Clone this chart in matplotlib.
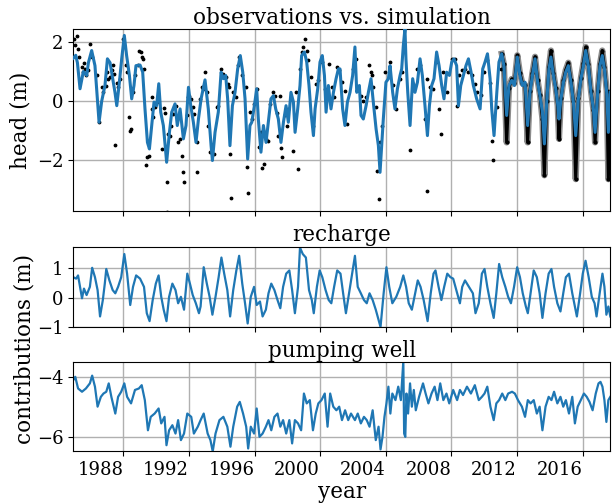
import numpy as np
import matplotlib
matplotlib.use("Agg")
import matplotlib.pyplot as plt

plt.rcParams['font.family'] = ['DejaVu Serif']

# simulated head (m)
sim_years = [1984.95, 1985.1, 1985.2, 1985.36, 1985.56, 1985.77, 1985.87, 1986.07, 1986.27, 1986.52,
             1986.68, 1986.88, 1987.03, 1987.19, 1987.35, 1987.49, 1987.6, 1987.76, 1987.9, 1988.06,
             1988.2, 1988.37, 1988.51, 1988.65, 1988.77, 1989.02, 1989.18, 1989.32, 1989.47, 1989.59,
             1989.73, 1989.87, 1990.03, 1990.16, 1990.28, 1990.44, 1990.64, 1990.81, 1990.95, 1991.15,
             1991.29, 1991.46, 1991.66, 1991.82, 1991.97, 1992.11, 1992.27, 1992.43, 1992.58, 1992.74,
             1992.98, 1993.18, 1993.35, 1993.43, 1993.59, 1993.79, 1993.96, 1994.1, 1994.24, 1994.36,
             1994.5, 1994.65, 1994.81, 1994.97, 1995.13, 1995.28, 1995.42, 1995.58, 1995.72, 1995.83,
             1995.99, 1996.13, 1996.23, 1996.39, 1996.54, 1996.7, 1996.84, 1997.0, 1997.15, 1997.29,
             1997.45, 1997.61, 1997.76, 1997.92, 1998.06, 1998.22, 1998.37, 1998.47, 1998.63, 1998.77,
             1998.87, 1999.04, 1999.18, 1999.32, 1999.44, 1999.59, 1999.69, 1999.85, 1999.99, 2000.13,
             2000.26, 2000.36, 2000.5, 2000.66, 2000.81, 2000.97, 2001.11, 2001.21, 2001.37, 2001.51,
             2001.66, 2001.82, 2001.98, 2002.12, 2002.23, 2002.39, 2002.49, 2002.63, 2002.8, 2002.94,
             2003.1, 2003.24, 2003.41, 2003.55, 2003.65, 2003.75, 2003.85, 2004.01, 2004.16, 2004.26,
             2004.42, 2004.56, 2004.71, 2004.87, 2004.97, 2005.07, 2005.17, 2005.23, 2005.34, 2005.48,
             2005.64, 2005.78, 2005.93, 2006.09, 2006.23, 2006.39, 2006.54, 2006.66, 2006.8, 2006.94,
             2007.1, 2007.25, 2007.41, 2007.55, 2007.71, 2007.88, 2008.02, 2008.16, 2008.32, 2008.43,
             2008.57, 2008.73, 2008.89, 2009.04, 2009.2, 2009.34, 2009.54, 2009.75, 2009.91, 2010.05,
             2010.2, 2010.36, 2010.46, 2010.6, 2010.77, 2010.9, 2011.07, 2011.2, 2011.37, 2011.51,
             2011.68, 2011.84, 2012.02, 2012.18, 2012.33, 2012.49, 2012.65, 2012.79, 2012.94, 2013.1,
             2013.26, 2013.4, 2013.55, 2013.67, 2013.81, 2013.95, 2014.07, 2014.22, 2014.36, 2014.48,
             2014.56, 2014.68, 2014.83, 2014.97, 2015.13, 2015.29, 2015.44, 2015.58, 2015.74, 2015.9,
             2016.05, 2016.19, 2016.35, 2016.51, 2016.66, 2016.76, 2016.92, 2017.06, 2017.2, 2017.33,
             2017.47, 2017.57, 2017.69]
sim_head = [1.45, 1.55, 1.3, 0.42, 1.0, 0.87, 1.3, 1.71, 1.2, -0.71,
            0.0, 0.53, 1.43, 1.3, 0.76, 0.3, -0.15, 0.64, 1.43, 2.22,
            1.54, 0.87, 0.08, 0.53, 1.2, 1.22, 0.98, -0.26, -1.39, -1.61,
            -0.82, -0.03, -0.15, 0.59, -0.37, -0.82, -2.06, -1.05, -0.37, -0.09,
            -0.82, -0.26, -1.27, -0.82, 0.47, -0.15, -0.71, -1.39, -0.6, 0.08,
            0.72, -0.26, -1.5, -2.0, -1.05, -0.37, 0.98, 0.76, 0.87, 0.08,
            -1.5, -0.15, 0.3, 1.09, 1.54, 0.98, 0.08, -1.95, -0.82, -0.71,
            -0.15, 0.42, -0.6, -1.72, -0.82, -1.39, -0.71, 0.08, 0.19, -0.26,
            -0.6, -1.39, -0.71, -0.15, -0.71, 0.3, -0.03, -1.05, -0.26, 0.53,
            1.54, 1.66, 1.32, 0.53, -0.37, -1.16, -0.26, 0.42, 1.32, 1.54,
            0.87, -0.37, 0.53, -0.26, 0.3, 0.76, 1.09, 1.09, -0.26, -0.82,
            -0.03, 0.3, 0.87, 1.83, 0.3, 0.53, -0.48, -0.6, -0.15, 0.3,
            0.76, -0.03, -0.94, -1.5, -2.4, -1.5, -0.6, 0.64, 0.76, 1.2,
            0.3, -0.26, 0.42, 0.87, 1.09, 1.88, 2.45, 1.43, 0.3, -0.82,
            0.76, 0.3, 0.64, 1.43, 0.87, -0.15, -1.16, -0.15, 0.53, 0.76,
            1.66, 1.2, 0.53, 0.08, 0.98, 0.87, 1.32, 1.43, 1.2, -0.15,
            0.53, 0.87, 1.2, 1.43, 0.98, 0.53, 0.08, -0.26, 1.09, 1.32,
            1.6, 0.76, -0.26, -1.16, 0.3, 1.32, 1.6, 1.2, -0.48, 0.53,
            0.7, 0.53, 1.49, 0.87, 0.53, 0.64, -0.82, 0.3, 0.87, 1.43,
            0.64, 0.19, -0.37, -1.44, -0.03, 1.09, 1.49, 0.87, 0.42, -0.09,
            -0.6, 0.08, 0.64, 0.98, 1.2, 0.64, -0.03, -1.16, 0.08, 0.76,
            1.2, 1.71, 1.2, 0.3, -0.26, -1.05, 0.3, 1.2, 1.54, 1.09,
            0.3, -1.05, 0.3]

# sparse head observations before 2011
obs_years = [1984.99, 1985.2, 1985.05, 1985.26, 1985.32, 1985.46, 1985.6, 1985.66, 1985.56, 1985.73,
             1985.87, 1985.97, 1986.07, 1986.38, 1986.54, 1986.68, 1986.78, 1986.95, 1987.03, 1987.09,
             1987.19, 1987.29, 1987.39, 1987.45, 1987.51, 1987.6, 1987.66, 1987.8, 1988.0, 1988.16,
             1988.25, 1988.35, 1988.45, 1988.41, 1988.53, 1988.61, 1988.71, 1988.92, 1988.98, 1989.06,
             1989.12, 1989.18, 1989.26, 1989.38, 1989.47, 1989.57, 1989.77, 1989.73, 1989.83, 1989.93,
             1990.08, 1990.34, 1990.48, 1990.54, 1990.64, 1990.64, 1990.75, 1990.85, 1990.91, 1991.05,
             1991.21, 1991.35, 1991.46, 1991.6, 1991.66, 1991.7, 1991.86, 1991.97, 1992.03, 1992.11,
             1992.23, 1992.31, 1992.47, 1992.47, 1992.68, 1992.78, 1992.88, 1992.98, 1993.08, 1993.18,
             1993.28, 1993.55, 1993.69, 1993.79, 1993.96, 1994.1, 1994.24, 1994.36, 1994.44, 1994.5,
             1994.57, 1994.71, 1994.85, 1994.97, 1995.07, 1995.26, 1995.46, 1995.52, 1995.62, 1995.72,
             1995.83, 1995.99, 1996.13, 1996.27, 1996.39, 1996.48, 1996.6, 1996.68, 1996.8, 1996.94,
             1997.15, 1997.25, 1997.35, 1997.45, 1997.55, 1997.61, 1997.66, 1997.86, 1997.96, 1998.06,
             1998.37, 1998.51, 1998.63, 1998.77, 1998.87, 1998.98, 1999.08, 1999.18, 1999.28, 1999.44,
             1999.59, 1999.75, 1999.89, 2000.09, 2000.3, 2000.54, 2000.7, 2000.87, 2001.01, 2001.17,
             2001.31, 2001.51, 2001.62, 2001.98, 2002.19, 2002.33, 2002.47, 2002.63, 2002.8, 2003.0,
             2003.08, 2003.16, 2003.24, 2003.41, 2003.49, 2003.61, 2003.65, 2003.75, 2003.95, 2004.26,
             2004.46, 2004.62, 2004.87, 2004.97, 2005.48, 2005.64, 2005.93, 2006.09, 2006.39, 2006.54,
             2006.5, 2006.7, 2006.86, 2007.06, 2007.27, 2007.35, 2007.51, 2007.71, 2008.02, 2008.22,
             2008.36, 2008.49, 2008.63, 2008.83, 2009.04, 2009.24, 2009.44, 2009.58, 2009.8, 2010.0,
             2010.2, 2010.35, 2010.5, 2010.52, 2010.8, 2011.0]
obs_head = [2.09, 2.19, 1.88, 1.75, 1.49, 1.15, 1.3, 1.09, 0.98, 0.87,
            1.04, 1.94, 1.49, 0.87, -0.71, 0.47, 0.3, 0.53, 0.98, 0.76,
            0.81, 1.04, 1.23, 0.92, -1.48, 0.62, 0.47, 0.76, 2.11, 1.21,
            0.98, -0.54, -0.94, -0.99, 0.42, 0.3, 0.87, 1.21, 1.71, 1.66,
            1.49, 1.43, 1.09, -2.15, -1.89, -1.84, 0.14, -0.26, -0.54, -0.2,
            -0.03, -1.61, -0.24, -0.39, -2.74, -3.73, -1.1, -1.16, -0.82, -0.43,
            -0.15, -1.39, -1.27, -1.86, -2.4, -2.74, -0.48, 0.14, 0.19, 0.08,
            -0.2, -0.43, -2.38, -1.39, 0.08, 0.47, 0.42, 0.98, 0.3, -0.82,
            -1.72, -1.78, -0.2, -0.15, 1.09, 0.92, 0.81, 0.59, 0.47, -1.78,
            -3.28, 0.3, 0.14, 1.23, 1.49, 0.87, 0.47, -2.23, -3.08, -0.37,
            -0.6, -0.09, 0.42, -1.56, -1.05, -2.27, -2.12, -1.27, -1.33, -0.09,
            0.3, 0.19, -0.39, -1.16, 0.19, -1.59, -1.89, -0.48, -0.82, -0.26,
            -1.67, 0.3, -2.29, 1.09, 1.66, 1.83, 2.09, 1.71, 1.38, 0.81,
            -0.82, 0.59, 0.7, 1.32, 0.42, 1.26, 0.47, 0.14, 1.15, 1.04,
            0.64, 0.36, -0.77, 1.09, 1.43, 0.47, 0.19, 0.02, 0.14, 1.21,
            0.98, 0.87, 0.47, -0.2, -2.35, -3.3, -1.39, -0.82, 0.98, 1.32,
            0.55, -0.26, 0.76, 0.98, -1.63, 0.59, 1.09, 1.21, -0.6, -3.02,
            0.76, 0.47, 0.42, 1.32, -0.26, -1.1, 0.98, 0.3, 1.43, 1.43,
            -0.15, 0.87, 1.04, 1.09, 0.98, 0.87, 0.59, 0.3, 0.2, 1.0,
            1.4, 0.6, -1.35, -1.98, -0.2, 1.1]

# dense (daily) observations from 2011 on
dense_years = [2011.07, 2011.2, 2011.37, 2011.51, 2011.68, 2011.84, 2012.02, 2012.18, 2012.33, 2012.49,
               2012.65, 2012.79, 2012.94, 2013.1, 2013.26, 2013.4, 2013.55, 2013.67, 2013.81, 2013.95,
               2014.07, 2014.22, 2014.36, 2014.48, 2014.56, 2014.68, 2014.83, 2014.97, 2015.13, 2015.29,
               2015.44, 2015.58, 2015.74, 2015.9, 2016.05, 2016.19, 2016.35, 2016.51, 2016.66, 2016.76,
               2016.92, 2017.06, 2017.2, 2017.33, 2017.47, 2017.57, 2017.69]
dense_head = [1.6, 1.25, -1.39, 0.45, 0.75, 0.6, 1.55, 0.95, 0.6, 0.55,
              -1.39, 0.35, 0.95, 1.5, 0.7, 0.2, -0.6, -2.5, 0.0, 1.15,
              1.71, 0.95, 0.45, -0.15, -1.27, 0.1, 0.7, 1.05, 1.3, 0.7,
              0.0, -2.63, 0.1, 0.8, 1.3, 1.83, 1.25, 0.35, -0.3, -1.39,
              0.35, 1.25, 1.71, 1.15, 0.35, -2.63, 0.3]

# recharge contribution (m)
rch_years = [1984.95, 1985.12, 1985.24, 1985.36, 1985.48, 1985.6, 1985.76, 1985.96, 1986.1, 1986.27,
             1986.43, 1986.58, 1986.75, 1986.87, 1986.96, 1987.15, 1987.35, 1987.51, 1987.68, 1987.87,
             1988.06, 1988.23, 1988.42, 1988.59, 1988.78, 1989.02, 1989.26, 1989.43, 1989.6, 1989.79,
             1989.98, 1990.15, 1990.31, 1990.46, 1990.63, 1990.79, 1990.99, 1991.18, 1991.34, 1991.51,
             1991.7, 1991.9, 1992.06, 1992.23, 1992.42, 1992.61, 1992.71, 1992.9, 1993.09, 1993.26,
             1993.43, 1993.62, 1993.81, 1993.98, 1994.15, 1994.34, 1994.51, 1994.7, 1994.89, 1995.06,
             1995.25, 1995.42, 1995.58, 1995.77, 1995.97, 1996.13, 1996.33, 1996.49, 1996.69, 1996.85,
             1997.02, 1997.21, 1997.4, 1997.57, 1997.74, 1997.93, 1998.12, 1998.29, 1998.46, 1998.65,
             1998.77, 1998.94, 1999.13, 1999.32, 1999.49, 1999.61, 1999.8, 1999.97, 2000.13, 2000.33,
             2000.52, 2000.68, 2000.85, 2001.04, 2001.24, 2001.4, 2001.57, 2001.76, 2001.95, 2002.12,
             2002.29, 2002.48, 2002.67, 2002.84, 2003.01, 2003.2, 2003.39, 2003.56, 2003.68, 2003.87,
             2004.04, 2004.21, 2004.4, 2004.64, 2004.88, 2005.07, 2005.24, 2005.4, 2005.59, 2005.79,
             2005.95, 2006.12, 2006.31, 2006.55, 2006.74, 2006.91, 2007.03, 2007.22, 2007.39, 2007.56,
             2007.75, 2007.94, 2008.11, 2008.35, 2008.52, 2008.66, 2008.83, 2009.07, 2009.31, 2009.47,
             2009.67, 2009.86, 2010.02, 2010.19, 2010.38, 2010.58, 2010.74, 2010.91, 2011.1, 2011.29,
             2011.46, 2011.63, 2011.82, 2012.01, 2012.18, 2012.35, 2012.54, 2012.66, 2012.83, 2013.02,
             2013.21, 2013.38, 2013.55, 2013.74, 2013.93, 2014.1, 2014.26, 2014.46, 2014.65, 2014.82,
             2014.98, 2015.17, 2015.37, 2015.53, 2015.65, 2015.85, 2016.01, 2016.18, 2016.37, 2016.56,
             2016.73, 2016.85, 2017.04, 2017.21, 2017.33, 2017.45, 2017.57, 2017.69]
rch_vals = [0.7, 0.65, 0.76, 0.37, -0.02, 0.31, 0.09, 0.37, 1.02, 0.7,
            0.26, -0.64, -0.08, 0.48, 0.98, 0.59, 0.26, 0.15, 0.37, 0.7,
            1.49, 0.82, -0.25, 0.37, 0.76, 0.65, 0.37, -0.53, -0.8, -0.08,
            0.48, 0.76, 0.03, -0.41, -0.8, 0.03, 0.48, 0.26, -0.19, 0.03,
            -0.41, 0.82, 0.48, 0.09, -0.19, -0.53, -0.3, 1.04, 0.48, 0.03,
            -0.58, 0.03, 0.7, 1.37, 0.82, 0.26, -0.64, 0.26, 0.93, 1.43,
            0.48, -0.19, -0.88, 0.03, 0.37, -0.25, -0.13, -0.64, -0.41, 0.15,
            0.48, 0.26, -0.08, -0.36, 0.37, 0.82, 0.93, 0.26, -0.53, 0.37,
            1.71, 1.49, 1.37, 0.26, -0.08, -0.53, 0.37, 0.93, 0.7, 0.26,
            -0.08, -0.19, 0.37, 0.93, 0.82, 0.15, -0.53, 0.15, 0.82, 1.43,
            0.37, 0.15, -0.08, -0.19, 0.15, -0.08, -0.41, -0.75, -1.0, 0.15,
            1.04, 0.37, -0.19, 0.03, 0.37, 0.76, 0.37, -0.19, -0.41, 0.15,
            0.59, 0.37, -0.08, -0.8, 0.15, 0.82, 0.93, 0.37, -0.08, 0.37,
            0.82, 0.7, 0.65, 0.15, -0.19, 0.37, 0.59, 0.37, 0.15, -0.53,
            -0.19, 0.82, 0.98, 0.37, -0.19, -0.69, 0.15, 1.15, 0.7, 0.37,
            0.03, -0.19, 0.37, 1.04, 0.7, 0.15, -0.3, -0.53, 0.15, 0.93,
            0.7, 0.15, -0.69, 0.15, 0.82, 0.98, 0.37, -0.19, -0.47, 0.15,
            0.7, 0.82, 0.15, -0.3, -0.64, 0.15, 0.82, 1.26, 0.7, 0.03,
            -0.19, -0.64, 0.15, 0.82, 0.37, -0.58, -0.3, -0.64]

# pumping well contribution (m)
well_years = [1984.95, 1985.07, 1985.24, 1985.48, 1985.72, 1985.96, 1986.1, 1986.27, 1986.43, 1986.63,
              1986.79, 1986.96, 1987.11, 1987.27, 1987.51, 1987.68, 1987.87, 1988.06, 1988.23, 1988.47,
              1988.71, 1988.95, 1989.12, 1989.31, 1989.5, 1989.67, 1989.91, 1990.15, 1990.31, 1990.51,
              1990.63, 1990.79, 1990.99, 1991.18, 1991.34, 1991.51, 1991.7, 1991.9, 1992.14, 1992.3,
              1992.54, 1992.71, 1992.9, 1993.14, 1993.31, 1993.45, 1993.62, 1993.86, 1994.1, 1994.34,
              1994.53, 1994.7, 1994.94, 1995.1, 1995.3, 1995.49, 1995.61, 1995.77, 1995.97, 1996.13,
              1996.3, 1996.49, 1996.69, 1996.85, 1997.02, 1997.21, 1997.4, 1997.57, 1997.74, 1997.93,
              1998.12, 1998.29, 1998.46, 1998.65, 1998.84, 1999.01, 1999.18, 1999.37, 1999.56, 1999.73,
              1999.89, 2000.08, 2000.28, 2000.45, 2000.61, 2000.8, 2000.99, 2001.16, 2001.33, 2001.52,
              2001.71, 2001.88, 2002.12, 2002.29, 2002.48, 2002.67, 2002.84, 2003.01, 2003.2, 2003.39,
              2003.56, 2003.68, 2003.8, 2003.92, 2004.04, 2004.16, 2004.28, 2004.4, 2004.59, 2004.76,
              2004.92, 2005.07, 2005.12, 2005.19, 2005.26, 2005.36, 2005.48, 2005.59, 2005.71, 2005.83,
              2006.03, 2006.27, 2006.43, 2006.6, 2006.79, 2006.98, 2007.15, 2007.32, 2007.51, 2007.7,
              2007.87, 2008.11, 2008.35, 2008.52, 2008.71, 2008.95, 2009.19, 2009.43, 2009.67, 2009.86,
              2010.02, 2010.19, 2010.38, 2010.58, 2010.74, 2010.91, 2011.1, 2011.29, 2011.46, 2011.7,
              2011.87, 2012.06, 2012.3, 2012.49, 2012.66, 2012.83, 2013.02, 2013.21, 2013.38, 2013.55,
              2013.74, 2013.93, 2014.1, 2014.26, 2014.46, 2014.65, 2014.82, 2014.98, 2015.17, 2015.37,
              2015.53, 2015.7, 2015.89, 2016.08, 2016.25, 2016.42, 2016.61, 2016.8, 2016.97, 2017.09,
              2017.21, 2017.33, 2017.45, 2017.57, 2017.69]
well_vals = [-4.09, -3.98, -4.37, -4.48, -4.37, -4.2, -3.94, -4.31, -4.98, -4.65,
             -4.54, -4.48, -4.2, -4.65, -5.21, -4.65, -4.48, -4.2, -4.65, -4.87,
             -4.42, -4.37, -4.26, -4.76, -5.77, -5.32, -5.21, -5.04, -5.54, -5.32,
             -6.27, -5.77, -5.6, -5.88, -5.43, -6.1, -5.88, -5.21, -5.32, -5.88,
             -5.65, -5.43, -5.21, -5.88, -6.1, -6.48, -5.88, -5.43, -5.32, -5.65,
             -6.32, -5.65, -4.98, -4.82, -5.21, -5.65, -6.38, -5.65, -5.88, -5.04,
             -5.99, -5.88, -5.65, -5.43, -5.77, -5.32, -5.21, -5.65, -5.43, -5.88,
             -5.43, -6.21, -5.43, -5.54, -5.77, -4.54, -4.87, -4.76, -5.77, -5.21,
             -4.87, -4.76, -4.54, -5.65, -4.54, -4.98, -5.1, -4.98, -5.43, -5.1,
             -5.43, -5.21, -5.43, -5.21, -5.54, -5.32, -5.43, -5.65, -5.1, -6.1,
             -5.65, -6.41, -5.99, -5.32, -4.87, -4.31, -5.21, -4.54, -4.76, -4.31,
             -4.76, -3.45, -5.88, -5.99, -4.54, -5.21, -4.2, -4.98, -4.42, -5.1,
             -4.65, -4.2, -4.54, -4.87, -4.54, -4.31, -4.76, -4.2, -4.76, -4.54,
             -4.87, -4.42, -4.76, -4.42, -4.59, -4.31, -4.54, -4.26, -4.76, -4.65,
             -4.54, -4.31, -4.98, -5.43, -4.87, -4.76, -4.54, -4.76, -4.54, -4.48,
             -4.54, -4.76, -4.98, -5.32, -4.76, -4.87, -4.76, -5.21, -4.98, -5.77,
             -4.98, -4.65, -4.76, -4.48, -4.87, -4.65, -4.98, -4.76, -5.21, -4.65,
             -5.54, -4.98, -4.76, -4.54, -4.65, -4.82, -5.1, -4.54, -4.2, -4.15,
             -4.31, -4.76, -5.49, -4.76, -4.65]

year_ticks = [1988, 1992, 1996, 2000, 2004, 2008, 2012, 2016]

fig = plt.figure(figsize=(6.15, 5.04), dpi=100)
ax1 = fig.add_axes([0.1192, 0.5804, 0.8732, 0.3611])
ax2 = fig.add_axes([0.1192, 0.3512, 0.8732, 0.1593], sharex=ax1)
ax3 = fig.add_axes([0.1192, 0.1042, 0.8732, 0.1766], sharex=ax1)

# dense obs: grey halo under a black core, mostly hidden by the simulation
ax1.plot(dense_years, dense_head, color='0.55', lw=4.5, zorder=2)
ax1.plot(dense_years, dense_head, color='k', lw=2.2, marker='.', ms=4, zorder=2)
ax1.plot(obs_years, obs_head, color='k', ls='', marker='.', ms=3.5, zorder=2)
ax1.plot(sim_years, sim_head, color='C0', lw=2.2, zorder=3)
ax1.set_ylim(-3.72, 2.42)
ax1.set_yticks([-2, 0, 2])
ax1.set_title('observations vs. simulation', fontsize=15.5, pad=4)
ax1.set_ylabel('head (m)', fontsize=15.5)

ax2.plot(rch_years, rch_vals, color='C0', lw=1.6)
ax2.set_ylim(-1.0, 1.74)
ax2.set_yticks([-1, 0, 1])
ax2.set_title('recharge', fontsize=15.5, pad=4)

ax3.plot(well_years, well_vals, color='C0', lw=1.6)
ax3.set_ylim(-6.48, -3.5)
ax3.set_yticks([-6, -4])
ax3.set_title('pumping well', fontsize=15.5, pad=4)
ax3.set_xlabel('year', fontsize=15.5, labelpad=1)

ax1.set_xlim(1984.95, 2017.69)
ax3.set_xticks(year_ticks)
ax3.set_xticklabels([str(y) for y in year_ticks], ha='right')

for ax in (ax1, ax2, ax3):
    ax.grid(True, color='#b0b0b0', lw=1.0)
    ax.tick_params(labelsize=13)
for ax in (ax1, ax2):
    ax.tick_params(labelbottom=False)

fig.text(0.04, 1 - 349 / 504, 'contributions (m)', rotation=90, va='center', ha='center', fontsize=15.5)

fig.savefig('out.png', dpi=100)
